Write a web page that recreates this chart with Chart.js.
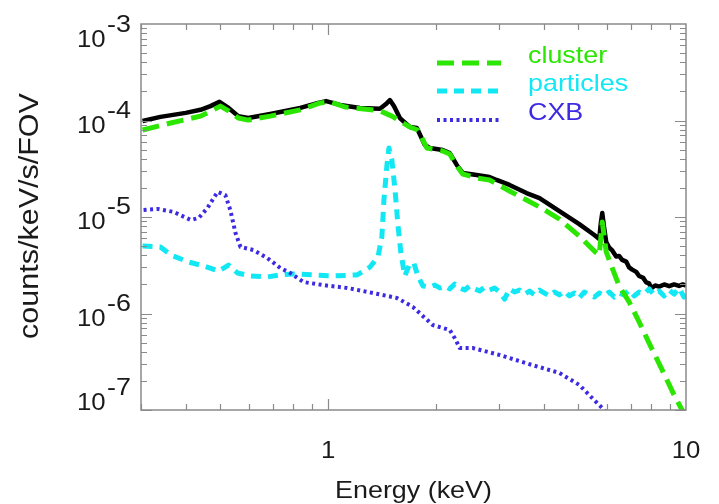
<!DOCTYPE html>
<html>
<head>
<meta charset="utf-8">
<script src="https://cdn.jsdelivr.net/npm/chart.js@4.4.0/dist/chart.umd.min.js"></script>
<style>
  html, body { margin: 0; padding: 0; background: #fff; }
  #wrap { width: 719px; height: 504px; }
</style>
</head>
<body>
<div id="wrap"><canvas id="spectrum" width="719" height="504"></canvas></div>
<script>
// energies in keV, rates in counts/keV/s/FOV
var totalEnergy = [0.303, 0.340, 0.400, 0.440, 0.469, 0.497, 0.527, 0.561, 0.598, 0.689, 0.836, 0.938, 0.987,
  1.080, 1.228, 1.396, 1.451, 1.488, 1.527, 1.587, 1.691, 1.770, 1.863, 1.923, 2.09, 2.187, 2.288, 2.377, 2.60,
  2.825, 2.957, 3.213, 3.584, 3.896, 4.428, 5.032, 5.543, 5.723, 5.78, 5.835, 5.90, 5.986, 6.105, 6.222, 6.38,
  6.502, 6.63, 6.806, 6.936, 7.073, 7.259, 7.396, 7.59, 7.739, 7.888, 7.991, 8.2, 8.414, 8.69, 8.974, 9.263,
  9.565, 9.8, 10];
var totalRate = [9.88e-5, 1.09e-4, 1.20e-4, 1.29e-4, 1.41e-4, 1.56e-4, 1.35e-4, 1.11e-4, 1.06e-4, 1.17e-4,
  1.35e-4, 1.52e-4, 1.59e-4, 1.45e-4, 1.35e-4, 1.32e-4, 1.48e-4, 1.63e-4, 1.41e-4, 1.06e-4, 8.57e-5, 8.36e-5,
  5.57e-5, 5.19e-5, 4.95e-5, 4.60e-5, 3.46e-5, 2.86e-5, 2.72e-5, 2.60e-5, 2.42e-5, 2.15e-5, 1.77e-5, 1.57e-5,
  1.15e-5, 8.45e-6, 6.51e-6, 5.92e-6, 8.6e-6, 1.10e-5, 7.9e-6, 5.5e-6, 4.8e-6, 4.5e-6, 3.9e-6, 3.95e-6, 3.6e-6,
  3.45e-6, 3.0e-6, 2.85e-6, 2.7e-6, 2.45e-6, 2.35e-6, 2.1e-6, 2.05e-6, 1.82e-6, 1.95e-6, 1.9e-6, 2.0e-6,
  1.92e-6, 2.0e-6, 1.93e-6, 2.0e-6, 1.95e-6];

var clusterEnergy = [0.303, 0.363, 0.440, 0.478, 0.500, 0.527, 0.561, 0.598, 0.689, 0.836, 0.950, 1.013, 1.115,
  1.396, 1.507, 1.587, 1.691, 1.781, 1.887, 2.09, 2.187, 2.288, 2.377, 2.60, 2.825, 2.957, 3.213, 3.584, 3.896,
  4.428, 5.032, 5.543, 5.723, 5.835, 5.986, 6.222, 6.502, 6.936, 7.396, 7.888, 8.577, 9.263, 9.748, 10];
var clusterRate = [7.97e-5, 9.42e-5, 1.11e-4, 1.29e-4, 1.41e-4, 1.26e-4, 1.06e-4, 1.01e-4, 1.11e-4, 1.29e-4,
  1.52e-4, 1.56e-4, 1.38e-4, 1.26e-4, 1.11e-4, 9.88e-5, 8.57e-5, 7.97e-5, 5.19e-5, 4.83e-5, 4.49e-5, 3.38e-5,
  2.79e-5, 2.54e-5, 2.42e-5, 2.20e-5, 1.86e-5, 1.50e-5, 1.27e-5, 9.53e-6, 6.35e-6, 4.44e-6, 4.04e-6, 8.87e-6,
  4.34e-6, 2.96e-6, 1.93e-6, 1.32e-6, 8.17e-7, 4.94e-7, 2.60e-7, 1.43e-7, 1.00e-7, 8.7e-8];

var particlesEnergy = [0.303, 0.340, 0.363, 0.407, 0.449, 0.494, 0.527, 0.558, 0.606, 0.676, 0.735, 0.799,
  0.908, 1.033, 1.205, 1.309, 1.378, 1.413, 1.432, 1.460, 1.479, 1.507, 1.538, 1.567, 1.597, 1.638, 1.691,
  1.736, 1.781, 1.840,
  1.923, 1.986, 2.051, 2.118, 2.187, 2.258, 2.332, 2.408, 2.487, 2.567, 2.651, 2.738, 2.825, 2.918, 3.014,
  3.112, 3.213, 3.318, 3.427, 3.539, 3.654, 3.773, 3.896, 4.023, 4.153, 4.289, 4.428, 4.573, 4.722, 4.876,
  5.032, 5.197, 5.366, 5.543, 5.723, 5.912, 6.105, 6.302, 6.502, 6.72, 6.936, 7.165, 7.396, 7.64, 7.888,
  8.145, 8.414, 8.686, 8.974, 9.263, 9.565, 9.87, 10];
var particlesRate = [5.0e-6, 4.89e-6, 4.04e-6, 3.42e-6, 3.11e-6, 2.75e-6, 3.18e-6, 2.63e-6, 2.45e-6, 2.39e-6,
  2.51e-6, 2.57e-6, 2.51e-6, 2.45e-6, 2.51e-6, 3.03e-6, 3.85e-6, 6.21e-6, 1.50e-5, 3.46e-5, 5.19e-5, 3.90e-5,
  1.91e-5, 8.26e-6, 4.24e-6, 2.45e-6, 3.26e-6, 3.34e-6, 2.45e-6, 1.93e-6,
  1.88e-6, 1.97e-6, 1.84e-6, 1.93e-6, 1.80e-6, 2.02e-6, 1.84e-6, 1.75e-6, 1.93e-6, 1.80e-6, 1.71e-6, 1.88e-6,
  1.75e-6, 1.84e-6, 1.67e-6, 1.41e-6, 1.80e-6, 1.67e-6, 1.75e-6, 1.59e-6, 1.71e-6, 1.56e-6, 1.75e-6, 1.63e-6,
  1.52e-6, 1.67e-6, 1.56e-6, 1.71e-6, 1.52e-6, 1.63e-6, 1.45e-6, 1.67e-6, 1.56e-6, 1.48e-6, 1.63e-6, 1.52e-6,
  1.67e-6, 1.48e-6, 1.63e-6, 1.56e-6, 1.75e-6, 1.52e-6, 1.67e-6, 1.59e-6, 1.80e-6, 1.56e-6, 1.71e-6, 1.52e-6,
  1.75e-6, 1.59e-6, 1.84e-6, 1.48e-6, 1.71e-6];

var cxbEnergy = [0.305, 0.334, 0.370, 0.413, 0.435, 0.460, 0.491, 0.516, 0.533, 0.551, 0.569, 0.618, 0.676,
  0.735, 0.784, 0.852, 0.968, 1.130, 1.335, 1.556, 1.725, 1.960, 2.187, 2.258, 2.332, 2.534, 3.014, 3.724,
  4.428, 5.032, 5.470, 5.799, 5.986];
var cxbRate = [1.18e-5, 1.21e-5, 1.13e-5, 9.31e-6, 9.77e-6, 1.24e-5, 1.82e-5, 1.69e-5, 1.18e-5, 6.83e-6,
  4.89e-6, 4.55e-6, 3.76e-6, 2.96e-6, 2.63e-6, 2.12e-6, 1.97e-6, 1.84e-6, 1.63e-6, 1.45e-6, 1.17e-6, 7.60e-7,
  6.75e-7, 5.57e-7, 4.39e-7, 4.39e-7, 3.72e-7, 2.92e-7, 2.42e-7, 1.82e-7, 1.33e-7, 1.07e-7, 9.5e-8];

var legendNames = ['cluster', 'particles', 'CXB'];
var xTickLabels = ['1', '10'];
var xTickValues = [1, 10];
var yTickExponents = [-3, -4, -5, -6, -7];

var FONT = '"Liberation Sans", Arial, Helvetica, sans-serif';
var SX = 1.12; // text in the original is drawn a little wide

function pairs(xs, ys) {
  return xs.map(function (x, i) { return { x: x, y: ys[i] }; });
}

function wideText(ctx, txt, x, y, align, size) {
  ctx.save();
  ctx.font = size + 'px ' + FONT;
  ctx.translate(x, y);
  ctx.scale(SX, 1);
  ctx.textAlign = align;
  ctx.textBaseline = 'alphabetic';
  ctx.fillText(txt, 0, 0);
  ctx.restore();
}

var axesDecor = {
  id: 'axesDecor',
  afterDatasetsDraw: function (chart) {
    var ctx = chart.ctx, a = chart.chartArea;
    var xs = chart.scales.x, ys = chart.scales.y;
    ctx.save();
    ctx.strokeStyle = '#8a8a8a';
    ctx.lineWidth = 1.5;
    ctx.strokeRect(a.left, a.top, a.right - a.left, a.bottom - a.top);

    ctx.lineWidth = 1.2;
    ctx.beginPath();
    [0.1, 1].forEach(function (d) {
      for (var m = 1; m <= 9; m++) {
        var v = m * d;
        if (v < 0.3 || v > 10) continue;
        var px = Math.round(xs.getPixelForValue(v)) + 0.5;
        var len = m === 1 ? 11 : 6;
        ctx.moveTo(px, a.bottom); ctx.lineTo(px, a.bottom - len);
        ctx.moveTo(px, a.top); ctx.lineTo(px, a.top + len);
      }
    });
    [1e-7, 1e-6, 1e-5, 1e-4].forEach(function (d) {
      for (var m = 1; m <= 9; m++) {
        var py = Math.round(ys.getPixelForValue(m * d)) + 0.5;
        var len = m === 1 ? 11 : 6;
        ctx.moveTo(a.left, py); ctx.lineTo(a.left + len, py);
        ctx.moveTo(a.right, py); ctx.lineTo(a.right - len, py);
      }
    });
    ctx.stroke();

    // tick labels
    ctx.fillStyle = '#1a1a1a';
    yTickExponents.forEach(function (e) {
      var py = ys.getPixelForValue(Math.pow(10, e));
      var base = py + 12;
      if (e === -3) base = py + 23;
      if (e === -7) base = py;
      wideText(ctx, '10', 77, base, 'left', 23);
      wideText(ctx, String(e), 107, base - 15, 'left', 24);
    });
    xTickValues.forEach(function (v, i) {
      wideText(ctx, xTickLabels[i], xs.getPixelForValue(v), 458, 'center', 23);
    });

    // axis titles
    wideText(ctx, 'Energy (keV)', (a.left + a.right) / 2, 498, 'center', 24);
    ctx.save();
    ctx.translate(38, 216);
    ctx.rotate(-Math.PI / 2);
    ctx.scale(1.13, 1);
    ctx.font = '27px ' + FONT;
    ctx.textAlign = 'center';
    ctx.fillText('counts/keV/s/FOV', 0, 0);
    ctx.restore();

    // legend inside the plot, top right
    var rows = [63, 91, 120];
    chart.data.datasets.slice(1).forEach(function (ds, i) {
      ctx.save();
      ctx.strokeStyle = ds.borderColor;
      ctx.lineWidth = ds.borderWidth;
      ctx.setLineDash(ds.borderDash || []);
      ctx.beginPath();
      ctx.moveTo(437, rows[i]);
      ctx.lineTo(501, rows[i]);
      ctx.stroke();
      ctx.restore();
      ctx.fillStyle = ds.borderColor;
      wideText(ctx, legendNames[i], 528, rows[i], 'left', 24);
    });
    ctx.restore();
  }
};

var config = {
  type: 'line',
  plugins: [axesDecor],
  data: {
    datasets: [
      { label: 'total', data: pairs(totalEnergy, totalRate), borderColor: '#000000', borderWidth: 4.5, order: 4 },
      { label: legendNames[0], data: pairs(clusterEnergy, clusterRate), borderColor: '#2ae600', borderWidth: 5,
        borderDash: [17, 8], order: 1 },
      { label: legendNames[1], data: pairs(particlesEnergy, particlesRate), borderColor: '#12e8f4', borderWidth: 5,
        borderDash: [10, 7], order: 3 },
      { label: legendNames[2], data: pairs(cxbEnergy, cxbRate), borderColor: '#3d2be3', borderWidth: 4,
        borderDash: [3, 3.5], order: 2 }
    ]
  },
  options: {
    responsive: false,
    animation: false,
    devicePixelRatio: 1,
    layout: { padding: { left: 141, right: 33, top: 24, bottom: 94 } },
    elements: { point: { radius: 0 }, line: { tension: 0, borderCapStyle: 'butt', borderJoinStyle: 'round' } },
    plugins: { legend: { display: false }, tooltip: { enabled: false } },
    scales: {
      x: { type: 'logarithmic', min: 0.3, max: 10, display: false },
      y: { type: 'logarithmic', min: 1e-7, max: 1e-3, display: false }
    }
  }
};

new Chart(document.getElementById('spectrum').getContext('2d'), config);
</script>
</body>
</html>
